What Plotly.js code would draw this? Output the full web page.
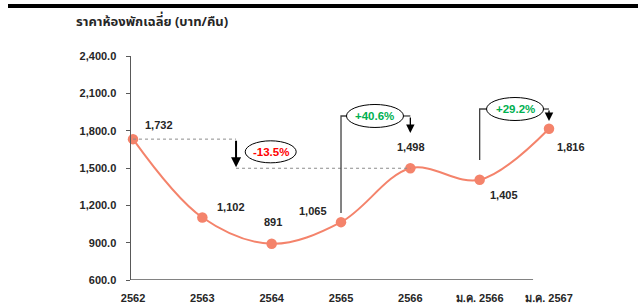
<!DOCTYPE html>
<html>
<head>
<meta charset="utf-8">
<script src="https://cdn.plot.ly/plotly-3.0.1.min.js"></script>
<style>html,body{margin:0;padding:0;background:#fff;}#chart{width:638px;height:303px;}</style>
</head>
<body>
<div id="chart"></div>
<script>
// ---- data ----
const categories = ['2562', '2563', '2564', '2565', '2566', 'ม.ค. 2566', 'ม.ค. 2567'];
const roomRate = [1732, 1102, 891, 1065, 1498, 1405, 1816];
const yTickValues = [600, 900, 1200, 1500, 1800, 2100, 2400];
const changeLabels = ['-13.5%', '+40.6%', '+29.2%'];
const chartTitle = 'ราคาห้องพักเฉลี่ย (บาท/คืน)';

// ---- styling / placement ----
const labelOffsets = [[26, -14], [29, -11], [1, -22], [-28, -11], [1, -21], [24, 15], [22, 18]];
const FONT = 'Liberation Sans, Arial, Noto Sans, sans-serif';
const lineColor = '#F4836B';
const connColor = '#404040';

const fmt = v => v.toLocaleString('en-US');

const trace = {
  x: categories.map((c, i) => i),
  y: roomRate,
  type: 'scatter',
  mode: 'lines+markers',
  line: {shape: 'spline', smoothing: 1, color: lineColor, width: 2},
  marker: {size: 10.5, color: lineColor},
  cliponaxis: false,
  hoverinfo: 'skip'
};

const annotations = roomRate.map((v, i) => ({
  x: i, y: v, xref: 'x', yref: 'y', text: fmt(v), showarrow: false,
  xshift: labelOffsets[i][0], yshift: -labelOffsets[i][1],
  font: {family: FONT, size: 11, color: '#262626', weight: 'bold'}
}));

// change 1 : 2562 -> 2566 (-13.5%)
const a1x = 1.486;
const e1 = {x: 1.986, y: 1630, w: 51, h: 22};
// change 2 : 2565 -> 2566
const e2 = {x: 3.49, y: 1918, w: 57, h: 23};
// change 3 : ม.ค. 2566 -> ม.ค. 2567
const e3 = {x: 5.51, y: 1974, w: 57, h: 23};

const ellipses = [e1, e2, e3];
const changeColors = ['#FF0000', '#00B050', '#00B050'];

ellipses.forEach((e, k) => {
  annotations.push({
    x: e.x, y: e.y, xref: 'x', yref: 'y', text: changeLabels[k], showarrow: false,
    font: {family: FONT, size: 11.5, color: changeColors[k], weight: 'bold'}
  });
});

// arrows
annotations.push({
  x: a1x, y: roomRate[4] + 8, ax: a1x, ay: roomRate[0], xref: 'x', yref: 'y', axref: 'x', ayref: 'y',
  text: '', showarrow: true, arrowhead: 2, arrowsize: 1, arrowwidth: 2, arrowcolor: '#000'
});
annotations.push({
  x: 4, y: 1781, ax: 4, ay: e2.y, xref: 'x', yref: 'y', axref: 'x', ayref: 'y',
  text: '', showarrow: true, arrowhead: 2, arrowsize: 1.3, arrowwidth: 1.3, arrowcolor: '#000'
});
annotations.push({
  x: 6, y: 1878, ax: 6, ay: e3.y, xref: 'x', yref: 'y', axref: 'x', ayref: 'y',
  text: '', showarrow: true, arrowhead: 2, arrowsize: 1.3, arrowwidth: 1.3, arrowcolor: '#000'
});

const shapes = [
  // top black bar
  {type: 'rect', xref: 'paper', yref: 'paper', x0: (8 - 131) / 470, x1: (638 - 131) / 470,
   y0: (280 - 8) / 224, y1: (280 - 4) / 224, fillcolor: '#000', line: {width: 0}},
  // x axis line
  {type: 'line', xref: 'x', yref: 'y', x0: -0.07, x1: 5.77, y0: 600, y1: 600,
   line: {color: '#595959', width: 1.5}},
  // dotted reference lines
  {type: 'line', xref: 'x', yref: 'y', x0: 0, x1: a1x, y0: roomRate[0], y1: roomRate[0],
   line: {color: '#8c8c8c', width: 1, dash: 'dot'}},
  {type: 'line', xref: 'x', yref: 'y', x0: a1x, x1: 4, y0: roomRate[4], y1: roomRate[4],
   line: {color: '#8c8c8c', width: 1, dash: 'dot'}},
  // connector 2
  {type: 'path', xref: 'x', yref: 'y', path: `M 3 1138 L 3 ${e2.y} L 3.087 ${e2.y}`,
   line: {color: connColor, width: 1.3}},
  {type: 'line', xref: 'x', yref: 'y', x0: 3.894, x1: 4, y0: e2.y, y1: e2.y,
   line: {color: connColor, width: 1.3}},
  // connector 3
  {type: 'path', xref: 'x', yref: 'y', path: `M 5 1564 L 5 ${e3.y} L 5.106 ${e3.y}`,
   line: {color: connColor, width: 1.3}},
  {type: 'line', xref: 'x', yref: 'y', x0: 5.914, x1: 6, y0: e3.y, y1: e3.y,
   line: {color: connColor, width: 1.3}}
];

ellipses.forEach(e => {
  shapes.push({
    type: 'circle', xref: 'x', yref: 'y', xsizemode: 'pixel', ysizemode: 'pixel',
    xanchor: e.x, yanchor: e.y, x0: -e.w / 2, x1: e.w / 2, y0: -e.h / 2, y1: e.h / 2,
    fillcolor: '#fff', line: {color: '#000', width: 1}
  });
});

const layout = {
  width: 638, height: 303,
  margin: {l: 131, r: 37, t: 56, b: 23},
  paper_bgcolor: '#fff', plot_bgcolor: '#fff',
  showlegend: false,
  title: {
    text: chartTitle, x: 76 / 638, xanchor: 'left', xref: 'container',
    y: 1 - 21 / 303, yanchor: 'middle', yref: 'container',
    font: {family: 'Noto Sans Thai, Tahoma, Noto Sans, sans-serif', size: 13, color: '#262626', weight: 'bold'}
  },
  xaxis: {
    type: 'linear', range: [-0.029, 6.75], tickmode: 'array',
    tickvals: categories.map((c, i) => i), ticktext: categories,
    showgrid: false, zeroline: false, showline: false, ticks: '',
    ticklabelstandoff: 10,
    tickfont: {family: FONT, size: 11, color: '#262626', weight: 'bold'}
  },
  yaxis: {
    range: [600, 2400], tickvals: yTickValues,
    ticktext: yTickValues.map(v => v.toLocaleString('en-US', {minimumFractionDigits: 1, maximumFractionDigits: 1})),
    showgrid: false, zeroline: false, showline: true, linecolor: '#595959', linewidth: 1.5,
    ticks: 'outside', ticklen: 4, tickcolor: '#595959', tickwidth: 1,
    ticklabelstandoff: 7,
    tickfont: {family: FONT, size: 11, color: '#262626', weight: 'bold'}
  },
  annotations: annotations,
  shapes: shapes
};

Plotly.newPlot('chart', [trace], layout, {displayModeBar: false, staticPlot: true});
</script>
</body>
</html>
